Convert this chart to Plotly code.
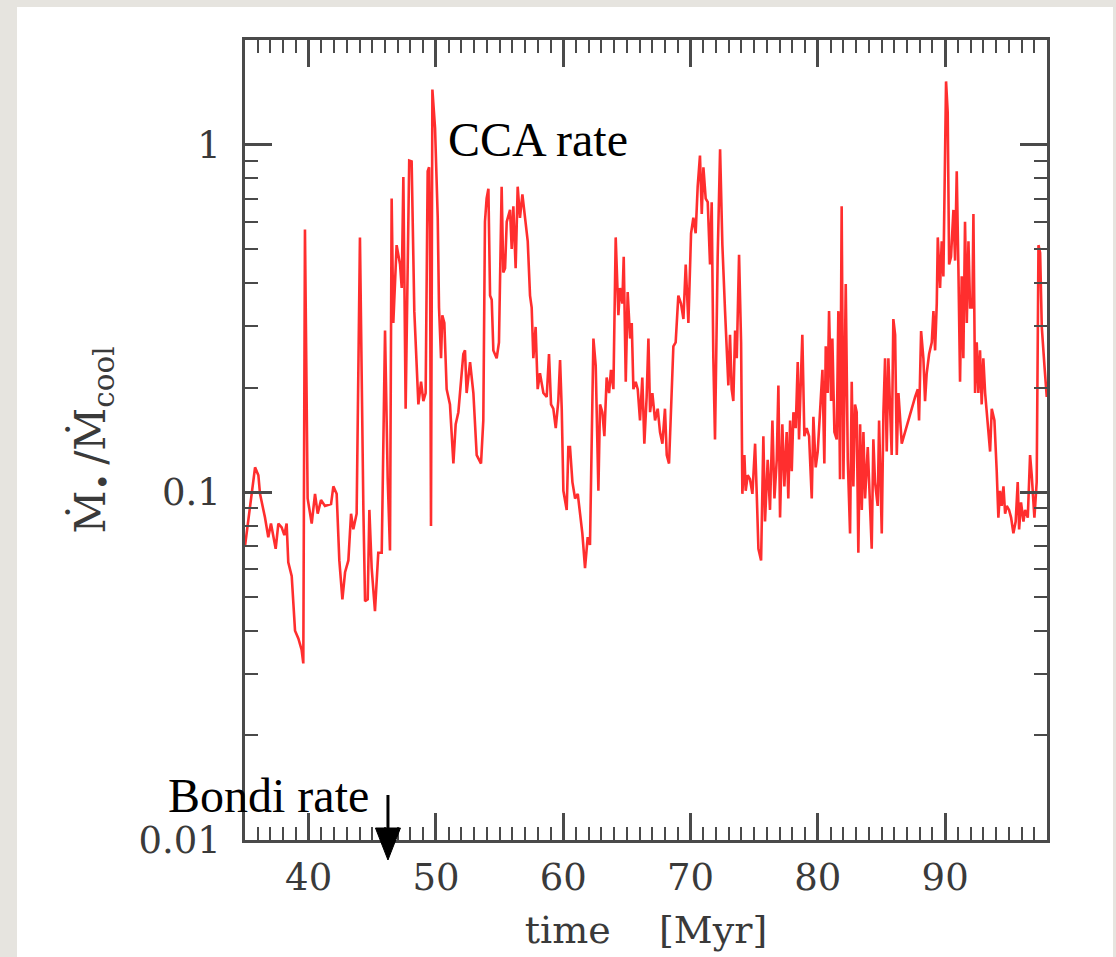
import plotly.graph_objects as go

# time [Myr]
time_myr = [
    35.00, 35.40, 35.79, 36.05, 36.18, 36.57, 36.83, 37.04, 37.23, 37.41, 37.62, 37.88, 38.09, 38.27,
    38.40, 38.67, 38.93, 39.19, 39.45, 39.58, 39.71, 39.92, 40.24, 40.50, 40.71, 40.97, 41.28, 41.76,
    41.94, 42.20, 42.41, 42.65, 42.86, 43.12, 43.33, 43.51, 43.77, 44.03, 44.30, 44.43, 44.64, 44.77,
    44.95, 45.21, 45.47, 45.74, 46.00, 46.21, 46.39, 46.52, 46.65, 46.91, 47.18, 47.31, 47.44, 47.62,
    47.90, 48.09, 48.30, 48.49, 48.62, 48.83, 49.01, 49.19, 49.35, 49.46, 49.53, 49.61, 49.72, 49.93,
    50.14, 50.24, 50.40, 50.50, 50.66, 50.84, 51.10, 51.37, 51.55, 51.76, 51.97, 52.15, 52.28, 52.41,
    52.68, 52.94, 53.20, 53.54, 53.72, 53.85, 53.98, 54.12, 54.25, 54.38, 54.51, 54.77, 54.95, 55.16,
    55.29, 55.43, 55.56, 55.82, 55.95, 56.08, 56.26, 56.42, 56.60, 56.79, 57.00, 57.21, 57.39, 57.52,
    57.65, 57.83, 57.99, 58.17, 58.44, 58.70, 58.88, 59.04, 59.22, 59.41, 59.61, 59.75, 59.88, 60.01,
    60.27, 60.40, 60.53, 60.72, 60.93, 61.14, 61.32, 61.50, 61.71, 61.92, 62.10, 62.23, 62.37, 62.55,
    62.76, 62.89, 63.07, 63.23, 63.41, 63.60, 63.75, 63.94, 64.12, 64.33, 64.46, 64.64, 64.75, 64.91,
    65.06, 65.25, 65.38, 65.51, 65.69, 65.85, 66.03, 66.21, 66.37, 66.55, 66.69, 66.82, 67.00, 67.21,
    67.42, 67.60, 67.79, 67.99, 68.13, 68.31, 68.47, 68.65, 68.83, 69.04, 69.25, 69.44, 69.62, 69.83,
    70.04, 70.22, 70.40, 70.56, 70.74, 70.88, 71.01, 71.19, 71.35, 71.53, 71.66, 71.79, 71.92, 72.13,
    72.32, 72.50, 72.71, 72.97, 73.10, 73.23, 73.36, 73.50, 73.63, 73.81, 73.97, 74.07, 74.23, 74.33,
    74.49, 74.67, 74.86, 75.07, 75.20, 75.33, 75.54, 75.72, 75.85, 76.06, 76.24, 76.43, 76.59, 76.77,
    76.90, 77.03, 77.21, 77.37, 77.55, 77.68, 77.82, 77.95, 78.08, 78.26, 78.42, 78.52, 78.68, 78.78,
    78.94, 79.12, 79.31, 79.52, 79.65, 79.83, 79.99, 80.17, 80.36, 80.51, 80.62, 80.77, 80.88, 81.04,
    81.14, 81.30, 81.48, 81.61, 81.74, 81.87, 82.01, 82.19, 82.35, 82.53, 82.66, 82.79, 82.92, 83.05,
    83.18, 83.32, 83.45, 83.58, 83.71, 83.92, 84.10, 84.23, 84.36, 84.49, 84.70, 84.81, 85.02, 85.15,
    85.28, 85.41, 85.54, 85.67, 85.80, 85.93, 86.07, 86.20, 86.33, 86.59, 86.85, 87.24, 87.64, 87.85,
    87.95, 88.11, 88.29, 88.42, 88.55, 88.74, 88.95, 89.08, 89.21, 89.34, 89.42, 89.60, 89.73, 89.86,
    89.99, 90.07, 90.20, 90.31, 90.46, 90.65, 90.78, 90.91, 91.04, 91.17, 91.30, 91.43, 91.56, 91.70,
    91.83, 91.96, 92.14, 92.22, 92.35, 92.48, 92.61, 92.74, 92.87, 93.00, 93.14, 93.34, 93.53, 93.66,
    93.87, 94.05, 94.18, 94.31, 94.44, 94.58, 94.71, 94.84, 95.02, 95.18, 95.36, 95.54, 95.70, 95.81,
    95.96, 96.15, 96.28, 96.49, 96.67, 96.80, 97.01, 97.19, 97.33, 97.46, 97.59, 97.80, 97.98,
]

# Mdot_BH / Mdot_cool
mdot_ratio = [
    0.070, 0.090, 0.118, 0.112, 0.099, 0.0846, 0.0743, 0.0813, 0.0743, 0.0688, 0.0813, 0.0793, 0.0753, 0.0813,
    0.0629, 0.0574, 0.040, 0.038, 0.0352, 0.0322, 0.570, 0.096, 0.0813, 0.099, 0.0868, 0.095, 0.0914, 0.0925,
    0.104, 0.099, 0.0637, 0.0492, 0.0589, 0.0637, 0.0868, 0.0783, 0.0868, 0.541, 0.089, 0.0486, 0.0492, 0.089,
    0.0605, 0.0455, 0.067, 0.067, 0.292, 0.109, 0.068, 0.700, 0.307, 0.514, 0.452, 0.387, 0.807, 0.174,
    0.900, 0.895, 0.332, 0.237, 0.179, 0.208, 0.183, 0.193, 0.839, 0.861, 0.570, 0.080, 1.44, 1.114,
    0.616, 0.340, 0.243, 0.323, 0.307, 0.198, 0.179, 0.121, 0.157, 0.170, 0.214, 0.250, 0.256, 0.193,
    0.237, 0.193, 0.128, 0.121, 0.161, 0.600, 0.700, 0.747, 0.368, 0.358, 0.256, 0.243, 0.270, 0.757,
    0.429, 0.441, 0.600, 0.649, 0.501, 0.665, 0.441, 0.757, 0.616, 0.719, 0.616, 0.527, 0.368, 0.340,
    0.243, 0.299, 0.198, 0.220, 0.193, 0.188, 0.250, 0.179, 0.174, 0.153, 0.183, 0.240, 0.174, 0.101,
    0.089, 0.135, 0.135, 0.107, 0.096, 0.099, 0.0868, 0.0762, 0.0605, 0.0743, 0.0706, 0.124, 0.277, 0.231,
    0.101, 0.179, 0.170, 0.145, 0.214, 0.193, 0.225, 0.198, 0.541, 0.323, 0.387, 0.349, 0.476, 0.208,
    0.377, 0.277, 0.307, 0.198, 0.208, 0.198, 0.161, 0.214, 0.138, 0.188, 0.277, 0.170, 0.193, 0.161,
    0.174, 0.149, 0.138, 0.174, 0.128, 0.121, 0.179, 0.263, 0.270, 0.368, 0.349, 0.315, 0.452, 0.307,
    0.556, 0.616, 0.556, 0.757, 0.930, 0.632, 0.861, 0.700, 0.683, 0.452, 0.683, 0.243, 0.142, 0.476,
    0.97, 0.514, 0.332, 0.203, 0.284, 0.198, 0.183, 0.292, 0.243, 0.482, 0.270, 0.099, 0.128, 0.101,
    0.112, 0.109, 0.099, 0.138, 0.099, 0.0688, 0.0637, 0.145, 0.0824, 0.124, 0.089, 0.161, 0.096, 0.124,
    0.203, 0.0846, 0.157, 0.104, 0.149, 0.096, 0.161, 0.115, 0.170, 0.153, 0.237, 0.142, 0.220, 0.284,
    0.145, 0.153, 0.145, 0.096, 0.165, 0.118, 0.131, 0.174, 0.225, 0.121, 0.263, 0.193, 0.332, 0.183,
    0.277, 0.149, 0.142, 0.332, 0.109, 0.665, 0.109, 0.397, 0.124, 0.0762, 0.208, 0.104, 0.179, 0.170,
    0.067, 0.157, 0.089, 0.149, 0.096, 0.135, 0.096, 0.0688, 0.142, 0.107, 0.0914, 0.161, 0.0762, 0.170,
    0.243, 0.131, 0.243, 0.161, 0.128, 0.315, 0.284, 0.128, 0.193, 0.138, 0.149, 0.170, 0.188, 0.198,
    0.161, 0.291, 0.243, 0.183, 0.220, 0.250, 0.270, 0.332, 0.256, 0.349, 0.541, 0.387, 0.527, 0.418,
    0.839, 1.52, 1.24, 0.452, 0.476, 0.649, 0.464, 0.839, 0.441, 0.208, 0.418, 0.243, 0.600, 0.307,
    0.527, 0.340, 0.340, 0.632, 0.193, 0.270, 0.193, 0.256, 0.179, 0.243, 0.193, 0.161, 0.131, 0.174,
    0.161, 0.115, 0.0846, 0.101, 0.0914, 0.104, 0.0868, 0.0914, 0.089, 0.0846, 0.0762, 0.0824, 0.107, 0.0782,
    0.0936, 0.0824, 0.089, 0.0846, 0.128, 0.112, 0.0846, 0.107, 0.514, 0.488, 0.299, 0.231, 0.188,
]

x_ticks = [40, 50, 60, 70, 80, 90]
y_tickvals = [0.01, 0.1, 1]
y_ticktext = ["0.01", "0.1", "1"]
y_minor = [0.02, 0.03, 0.04, 0.05, 0.06, 0.07, 0.08, 0.09,
           0.2, 0.3, 0.4, 0.5, 0.6, 0.7, 0.8, 0.9, 2]

bondi_time = 46.23  # position of the "Bondi rate" arrow [Myr]

AX = "#4a4a4a"
TXT = "#3a3a3a"
TICKFONT = dict(family="DejaVu Serif", size=37, color=TXT)
BG = "#e6e4df"

fig = go.Figure()
fig.add_trace(go.Scatter(
    x=time_myr, y=mdot_ratio, mode="lines",
    line=dict(color="rgba(255,0,0,0.82)", width=2.6),
    hoverinfo="skip",
))

fig.update_xaxes(
    range=[35, 98], tickmode="array", tickvals=x_ticks,
    ticks="inside", ticklen=27, tickwidth=2.5, tickcolor=AX,
    showline=True, linecolor=AX, linewidth=2.5, mirror="allticks",
    showgrid=False, zeroline=False, tickfont=TICKFONT, ticklabelstandoff=3,
    title=dict(text="time\u00a0\u00a0\u00a0 [Myr]", standoff=19,
               font=dict(family="DejaVu Serif", size=38, color=TXT)),
    minor=dict(dtick=1, tick0=0, ticks="inside", ticklen=13, tickwidth=2, tickcolor=AX, showgrid=False),
)
fig.update_yaxes(
    type="log", range=[-2, 0.301],
    tickmode="array", tickvals=y_tickvals, ticktext=y_ticktext,
    ticks="inside", ticklen=27, tickwidth=2.5, tickcolor=AX,
    showline=True, linecolor=AX, linewidth=2.5, mirror="allticks",
    showgrid=False, zeroline=False, tickfont=TICKFONT, ticklabelstandoff=14,
    title=dict(text="Ṁ<sub>•</sub>\u2009/Ṁ<sub>cool</sub>", standoff=20,
               font=dict(family="DejaVu Serif", size=42, color=TXT)),
    minor=dict(tickmode="array", tickvals=y_minor, ticks="inside", ticklen=13,
               tickwidth=2, tickcolor=AX, showgrid=False),
)

L, R, T, B = 245, 69, 40, 117
W, H = 1116, 957
pw, ph = W - L - R, H - T - B


def px(xp):
    return (xp - L) / pw


def py(yp):
    return (H - B - yp) / ph


half_w = 12.5 / pw * (98 - 35)  # arrowhead half-width in time units

fig.update_layout(
    width=W, height=H,
    margin=dict(l=L, r=R, t=T, b=B, autoexpand=False),
    paper_bgcolor=BG, plot_bgcolor="white",
    showlegend=False,
    shapes=[
        dict(type="rect", xref="paper", yref="paper", layer="below",
             x0=px(17), x1=px(1113), y0=py(960), y1=py(7),
             fillcolor="white", line=dict(width=0)),
        dict(type="line", xref="x", yref="paper", x0=bondi_time, x1=bondi_time,
             y0=py(795), y1=py(832), line=dict(color="black", width=3)),
        dict(type="path", xref="x", yref="paper",
             path=f"M {bondi_time - half_w},{py(828)} L {bondi_time + half_w},{py(828)} "
                  f"L {bondi_time},{py(860)} Z",
             fillcolor="black", line=dict(color="black", width=1)),
    ],
    annotations=[
        dict(text="CCA rate", xref="paper", yref="paper", x=px(446), y=py(139),
             xanchor="left", yanchor="middle", showarrow=False,
             font=dict(family="Liberation Serif", size=48, color="black")),
        dict(text="Bondi rate", xref="paper", yref="paper", x=px(166), y=py(795),
             xanchor="left", yanchor="middle", showarrow=False,
             font=dict(family="Liberation Serif", size=48, color="black")),
    ],
)

fig.write_html(
    "out.html",
    config={"displayModeBar": False},
    post_script=f"document.body.style.margin='0';document.body.style.background='{BG}';",
)
